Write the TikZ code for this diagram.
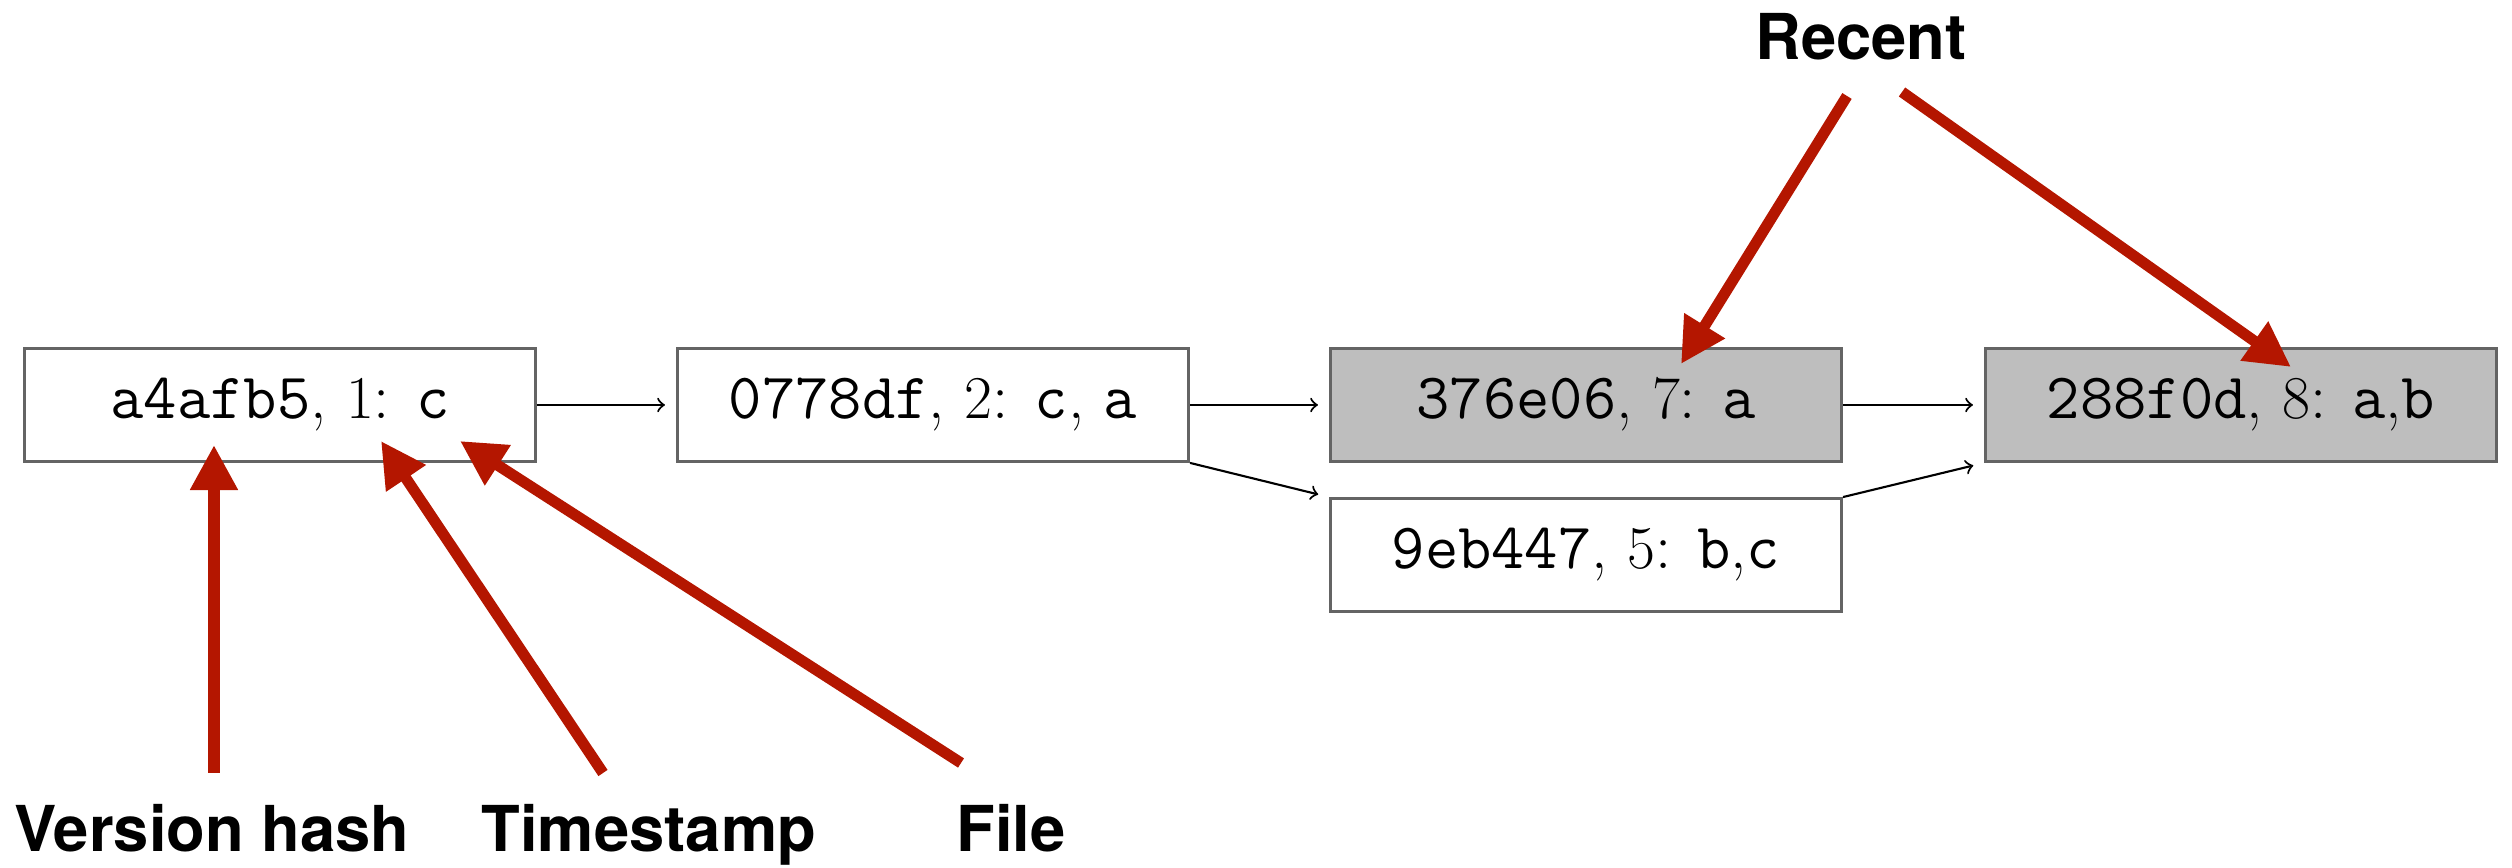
\documentclass[tikz,border=0pt]{standalone}
\usepackage{fontspec}
\newfontfamily\labfont{TeX Gyre Heros}
\usetikzlibrary{arrows.meta}
\definecolor{redarrow}{RGB}{180,22,0}
\definecolor{boxgray}{RGB}{190,190,190}
\definecolor{edgegray}{RGB}{100,100,100}
\begin{document}
\begin{tikzpicture}[x=0.01cm,y=-0.01cm,
  commit/.style={draw=edgegray, line width=0.8pt, minimum width=5.11cm, minimum height=1.13cm, inner sep=0pt, font=\fontsize{18.4}{22}\selectfont},
  recentbox/.style={commit, fill=boxgray},
  link/.style={-to, line width=0.6pt, shorten >=0.11cm},
  callout/.style={draw=redarrow, line width=0.11cm, -{Triangle[length=0.45cm,width=0.45cm]}, redarrow},
  lbl/.style={font=\labfont\bfseries\fontsize{18}{22}\selectfont, anchor=base, inner sep=0pt}]
\useasboundingbox (0,0) rectangle (2512,868);

\node[commit] (c1) at (280,405) {\texttt{a4afb5}, $1$: \texttt{c}};
\node[commit] (c2) at (933,405) {\texttt{0778df}, $2$: \texttt{c}, \texttt{a}};
\node[recentbox] (c7) at (1586,405) {\texttt{376e06}, $7$: \texttt{a}};
\node[recentbox] (c8) at (2241,405) {\texttt{288f0d}, $8$: \texttt{a},\texttt{b}};
\node[commit] (c5) at (1586,555) {\texttt{9eb447}, $5$: \texttt{b},\texttt{c}};

\draw[link] (c1.east) -- (c2.west);
\draw[link] (c2.east) -- (c7.west);
\draw[link] (c7.east) -- (c8.west);
\draw[link] (c2.south east) -- (c5.north west);
\draw[link] (c5.north east) -- (c8.south west);

\node[lbl] (vh) at (212,852) {Version hash};
\node[lbl] (ts) at (649,852) {Timestamp};
\node[lbl] (fl) at (1011,852) {File};
\node[lbl] (rc) at (1861,60) {Recent};

\coordinate (vhT) at (214,773);
\coordinate (vhH) at (214,445);
\coordinate (tsT) at (603,773);
\coordinate (tsH) at (381,441);
\coordinate (flT) at (961,763);
\coordinate (flH) at (460,441);
\coordinate (rcAT) at (1847,96);
\coordinate (rcAH) at (1681,364);
\coordinate (rcBT) at (1902,92);
\coordinate (rcBH) at (2291,367);

\draw[callout] (vhT) -- (vhH);
\draw[callout] (tsT) -- (tsH);
\draw[callout] (flT) -- (flH);
\draw[callout] (rcAT) -- (rcAH);
\draw[callout] (rcBT) -- (rcBH);
\end{tikzpicture}
\end{document}
